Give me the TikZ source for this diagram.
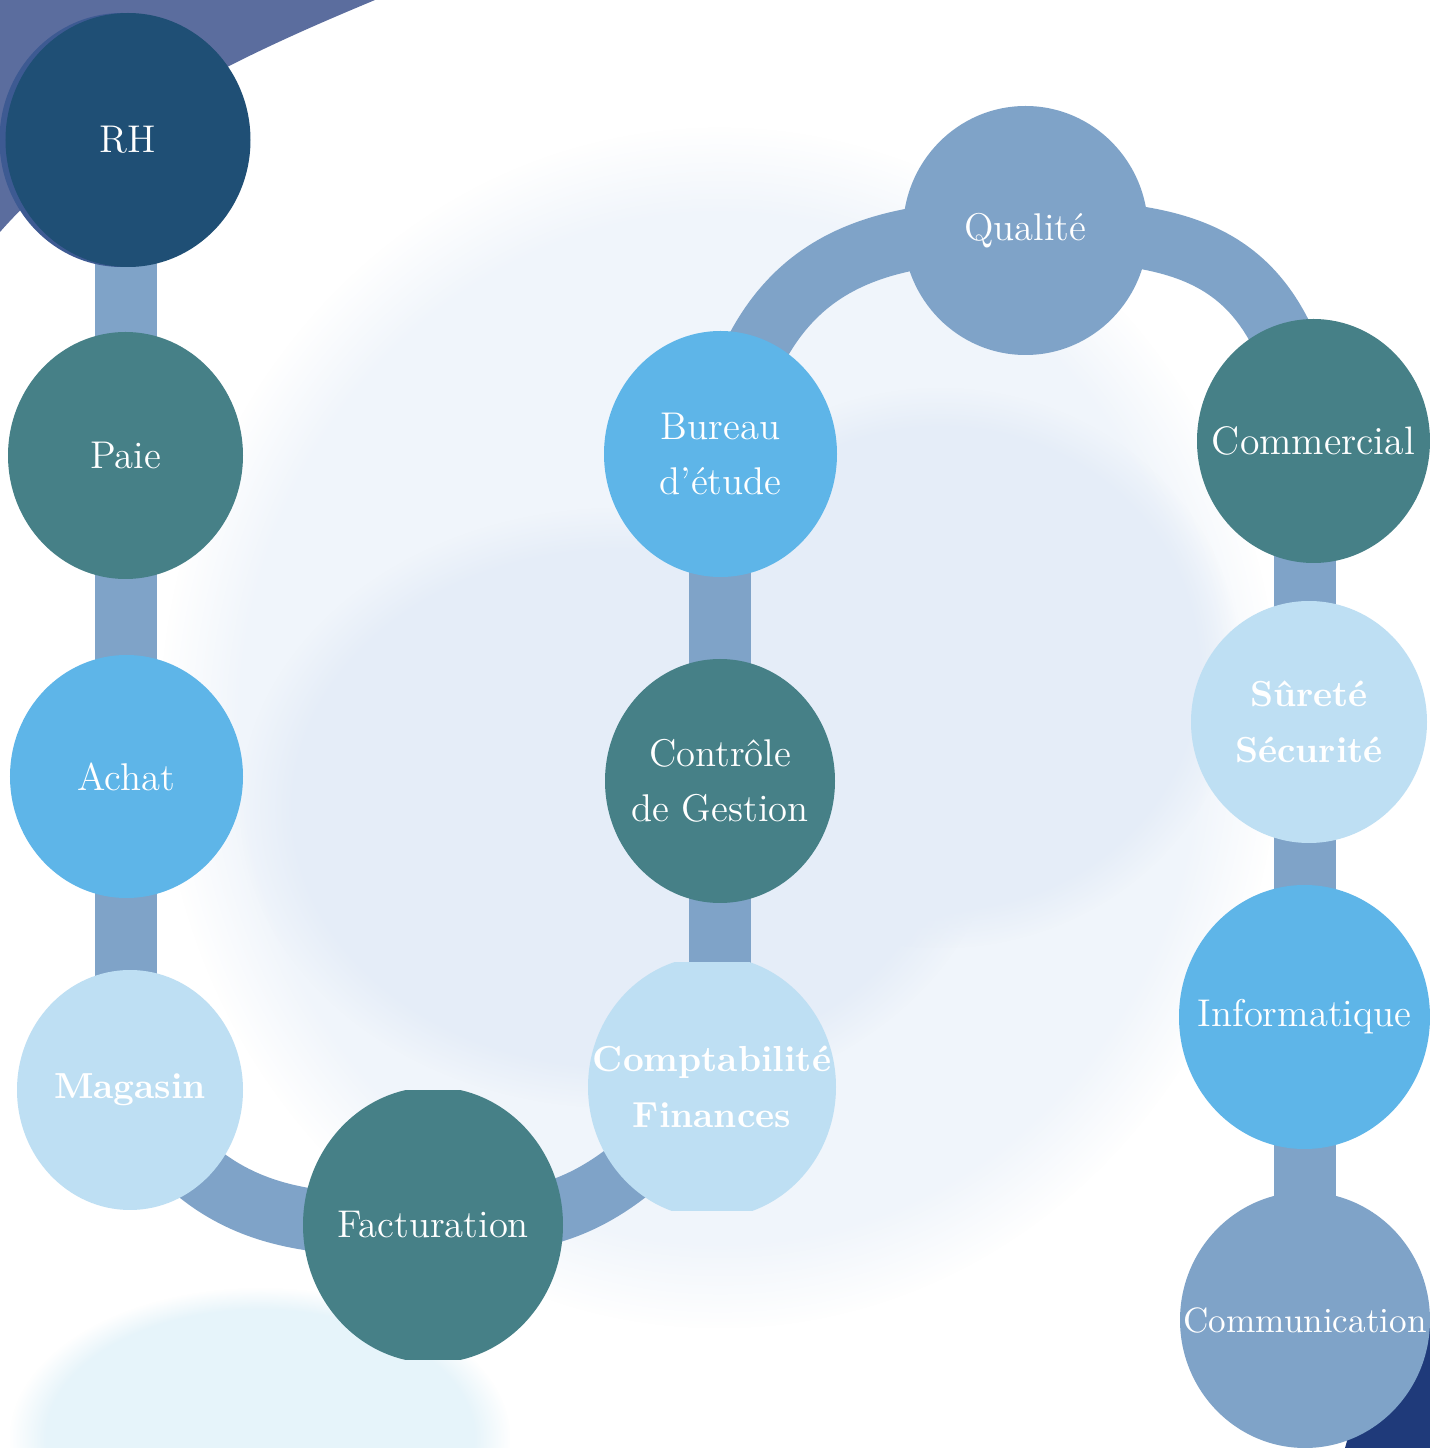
\documentclass[tikz,border=0pt]{standalone}
\usepackage{tikz}
\usetikzlibrary{shapes.geometric,fadings}

\definecolor{rhblue}{HTML}{1F4F75}
\definecolor{rhedge}{HTML}{3D5A92}
\definecolor{tealgrey}{HTML}{468087}
\definecolor{skyblue}{HTML}{5EB5E8}
\definecolor{paleblue}{HTML}{BEDFF3}
\definecolor{steelblue}{HTML}{7FA3C8}
\definecolor{plum}{HTML}{5B6D9E}
\definecolor{navy}{HTML}{1F3A7A}
\definecolor{cloudA}{HTML}{F0F5FB}
\definecolor{cloudB}{HTML}{E5EDF8}
\definecolor{cloudC}{HTML}{E6F4FA}

\pgfdeclarelayer{back}
\pgfdeclarelayer{links}
\pgfsetlayers{back,links,main}

\begin{document}
\begin{tikzpicture}[
    dept/.style={ellipse, inner sep=-1cm, text=white, align=center, font=\fontsize{11}{15.8}\selectfont},
    darkc/.style={dept, fill=rhblue},
    tealc/.style={dept, fill=tealgrey},
    skyc/.style={dept, fill=skyblue},
    palec/.style={dept, fill=paleblue, font=\fontsize{10.3}{15.8}\selectfont\bfseries},
    steelc/.style={dept, fill=steelblue},
    link/.style={draw=steelblue, line width=6.2mm},
    cloud/.style={path fading=circle with fuzzy edge 15 percent},
]
\useasboundingbox (0,0) rectangle (14.30,14.48);

\begin{pgfonlayer}{back}
\fill[white] (0,0) rectangle (14.30,14.48);
\fill[cloudA, cloud] (7.2,7.2) ellipse (5.6 and 6.0);
\fill[cloudB, cloud] (6.2,6.4) ellipse (3.8 and 3.0);
\fill[cloudB, cloud] (9.4,7.8) ellipse (3.0 and 2.8);
\fill[cloudC, cloud] (2.6,0.1) ellipse (2.5 and 1.5);
\fill[plum] (0,14.48) -- (3.75,14.48) .. controls (2.6,14.0) and (1.0,13.3) .. (0,12.16) -- cycle;
\fill[navy] (13.45,0) .. controls (13.6,0.55) and (13.95,1.0) .. (14.30,1.35) -- (14.30,0) -- cycle;
\end{pgfonlayer}

\fill[rhedge] (1.22,13.08) ellipse (1.225 and 1.27);
\node[darkc, minimum width=24.5mm, minimum height=25.4mm] (rh) at (1.28,13.08) {RH};
\node[tealc, minimum width=23.5mm, minimum height=24.7mm] (paie) at (1.255,9.925) {Paie};
\node[skyc, minimum width=23.3mm, minimum height=24.3mm] (achat) at (1.265,6.715) {Achat};
\node[palec, minimum width=22.6mm, minimum height=24mm] (mag) at (1.30,3.58) {Magasin};
\begin{scope}
\clip (3,0.88) rectangle (5.7,3.57);
\node[tealc, minimum width=26mm, minimum height=27.6mm] (fact) at (4.33,2.23) {Facturation};
\end{scope}
\begin{scope}
\clip (5.8,2.37) rectangle (8.5,4.85);
\node[palec, minimum width=24.8mm, minimum height=26.2mm] (compta) at (7.12,3.61) {Comptabilité\\Finances};
\end{scope}
\node[tealc, minimum width=23mm, minimum height=24.4mm] (ctrl) at (7.20,6.67) {Contrôle\\de Gestion};
\node[skyc, minimum width=23.3mm, minimum height=24.6mm] (bur) at (7.205,9.94) {Bureau\\d’étude};
\node[steelc, minimum width=24.5mm, minimum height=24.9mm] (qual) at (10.255,12.175) {Qualité};
\node[tealc, minimum width=23.3mm, minimum height=24.4mm, font=\fontsize{11.3}{15.8}\selectfont] (comm) at (13.135,10.07) {Commercial};
\node[palec, minimum width=23.6mm, minimum height=24.2mm] (sur) at (13.09,7.26) {Sûreté\\Sécurité};
\node[skyc, minimum width=25.1mm, minimum height=26.4mm] (info) at (13.045,4.31) {Informatique};
\node[steelc, minimum width=25mm, minimum height=25.6mm, font=\fontsize{10}{15.8}\selectfont] (comu) at (13.05,1.28) {Communication};

\begin{pgfonlayer}{links}
\draw[link] (paie.center |- rh.center) -- (paie.center |- mag.center);
\draw[link] (mag.center) .. controls +(-60:1.6) and +(180:1.2) .. (fact.center);
\draw[link] (fact.center) .. controls +(0:1.2) and +(-130:1.6) .. (compta.center);
\draw[link] (ctrl.center |- compta.center) -- (ctrl.center |- bur.center);
\draw[link] (bur.center) .. controls +(78:1.9) and +(180:1.7) .. (qual.center);
\draw[link] (qual.center) .. controls +(0:1.7) and +(100:1.9) .. (comm.center);
\draw[link] (info.center |- comm.center) -- (info.center |- comu.center);
\end{pgfonlayer}
\end{tikzpicture}
\end{document}
